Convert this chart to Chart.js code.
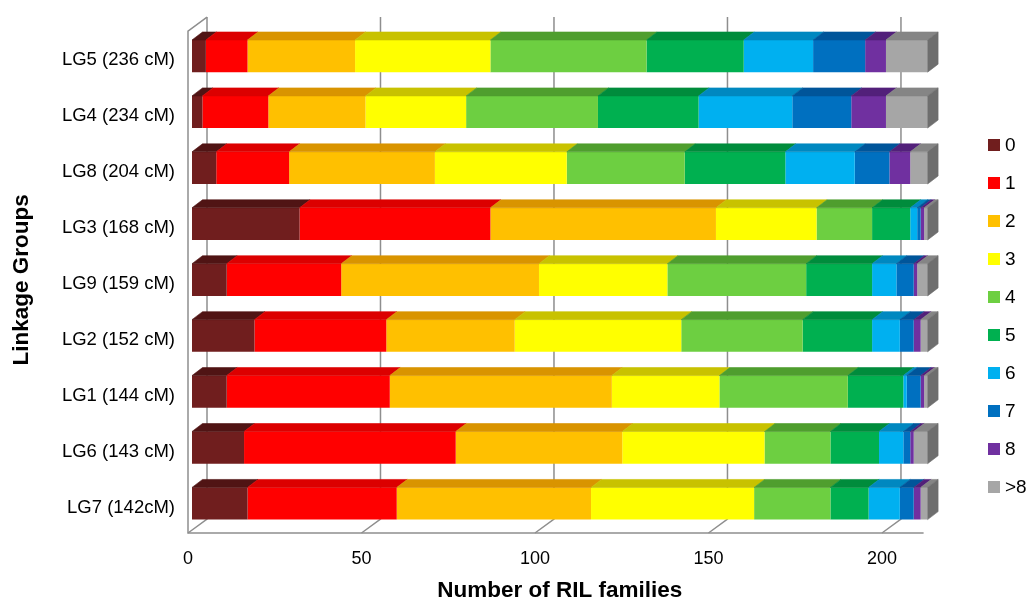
<!DOCTYPE html>
<html>
<head>
<meta charset="utf-8">
<script src="https://cdn.jsdelivr.net/npm/chart.js@4"></script>
<style>
  html, body { margin: 0; padding: 0; background: #fff; }
  #wrap { width: 1032px; height: 602px; }
</style>
</head>
<body>
<div id="wrap"><canvas id="rilChart" width="1032" height="602"></canvas></div>
<script>
const groups = ['LG5 (236 cM)', 'LG4 (234 cM)', 'LG8 (204 cM)', 'LG3 (168 cM)', 'LG9 (159 cM)',
                'LG2 (152 cM)', 'LG1 (144 cM)', 'LG6 (143 cM)', 'LG7 (142cM)'];
const classes = ['0', '1', '2', '3', '4', '5', '6', '7', '8', '>8'];

// number of RIL families per class, one value per linkage group (same order as groups)
const count0 = [4, 3, 7, 31, 10, 18, 10, 15, 16];
const count1 = [12, 19, 21, 55, 33, 38, 47, 61, 43];
const count2 = [31, 28, 42, 65, 57, 37, 64, 48, 56];
const count3 = [39, 29, 38, 29, 37, 48, 31, 41, 47];
const count4 = [45, 38, 34, 16, 40, 35, 37, 19, 22];
const count5 = [28, 29, 29, 11, 19, 20, 16, 14, 11];
const count6 = [20, 27, 20, 2, 7, 8, 1, 7, 9];
const count7 = [15, 17, 10, 1, 5, 4, 4, 2, 4];
const count8 = [6, 10, 6, 1, 1, 2, 1, 1, 2];
const countOver8 = [12, 12, 5, 1, 3, 2, 1, 4, 2];

const xTicks = [0, 50, 100, 150, 200];
const xMax = 212;

const frontColors = ['#701e1e', '#ff0000', '#ffc000', '#ffff00', '#6dcf41', '#00b050', '#00b0f0', '#0070c0', '#7030a0', '#a6a6a6'];
const topColors = ['#501414', '#dc0000', '#d99400', '#c8c200', '#4f9e2e', '#008c3c', '#0088c0', '#00559a', '#52207a', '#858585'];
const sideColors = ['#3e0f0f', '#b00000', '#b37a00', '#a39e00', '#3f7f24', '#006e30', '#006c98', '#00437a', '#401860', '#6e6e6e'];

const FONT = "'Liberation Sans', Arial, sans-serif";
const depthX = 10.5, depthY = 8;

const allCounts = [count0, count1, count2, count3, count4, count5, count6, count7, count8, countOver8];

// top and right faces of the 3D bars
const bar3d = {
    id: 'bar3d',
    afterDatasetsDraw(chart) {
        const ctx = chart.ctx;
        const metas = chart.getSortedVisibleDatasetMetas();
        ctx.save();
        ctx.lineWidth = 0.6;
        for (let r = 0; r < chart.data.labels.length; r++) {
            let last = null;
            metas.forEach(meta => {
                const el = meta.data[r];
                const x1 = Math.min(el.base, el.x), x2 = Math.max(el.base, el.x);
                if (x2 - x1 < 0.01) return;
                const top = el.y - el.height / 2;
                ctx.fillStyle = ctx.strokeStyle = topColors[meta.index];
                ctx.beginPath();
                ctx.moveTo(x1, top);
                ctx.lineTo(x2, top);
                ctx.lineTo(x2 + depthX, top - depthY);
                ctx.lineTo(x1 + depthX, top - depthY);
                ctx.closePath();
                ctx.fill();
                ctx.stroke();
                last = { x2, top, bottom: el.y + el.height / 2, i: meta.index };
            });
            if (last) {
                ctx.fillStyle = ctx.strokeStyle = sideColors[last.i];
                ctx.beginPath();
                ctx.moveTo(last.x2, last.top);
                ctx.lineTo(last.x2 + depthX, last.top - depthY);
                ctx.lineTo(last.x2 + depthX, last.bottom - depthY);
                ctx.lineTo(last.x2, last.bottom);
                ctx.closePath();
                ctx.fill();
                ctx.stroke();
            }
        }
        ctx.restore();
    }
};

// back wall gridlines, floor and left wall
const wall = {
    id: 'wall',
    beforeDatasetsDraw(chart) {
        const { ctx, chartArea: a, scales: { x } } = chart;
        const floorY = a.bottom + 1.5, backY = floorY - 14;
        const topBack = a.top - 11, topFront = topBack + 14;
        const fx = v => x.getPixelForValue(v) - 4;
        ctx.save();
        ctx.strokeStyle = '#8e8e8e';
        ctx.lineWidth = 1.5;
        xTicks.forEach(v => {
            ctx.beginPath();
            ctx.moveTo(fx(v) + 19, topBack);
            ctx.lineTo(fx(v) + 19, backY);
            ctx.lineTo(fx(v), floorY);
            ctx.stroke();
        });
        ctx.beginPath();
        ctx.moveTo(fx(xMax), floorY);
        ctx.lineTo(fx(0), floorY);
        ctx.lineTo(fx(0), topFront);
        ctx.lineTo(fx(0) + 19, topBack);
        ctx.stroke();
        ctx.restore();
    }
};

// legend on the right
const sideLegend = {
    id: 'sideLegend',
    afterDraw(chart) {
        const ctx = chart.ctx;
        ctx.save();
        ctx.font = '19px ' + FONT;
        ctx.textBaseline = 'middle';
        ctx.textAlign = 'left';
        chart.data.datasets.forEach((ds, i) => {
            const y = 145 + i * 38;
            ctx.fillStyle = ds.backgroundColor;
            ctx.fillRect(988, y - 6, 12, 12);
            ctx.fillStyle = '#000';
            ctx.fillText(ds.label, 1005, y + 1);
        });
        ctx.restore();
    }
};

const ctx = document.getElementById('rilChart').getContext('2d');

new Chart(ctx, {
    type: 'bar',
    data: {
        labels: groups,
        datasets: classes.map((c, i) => ({
            label: c,
            data: allCounts[i],
            backgroundColor: frontColors[i],
            borderWidth: 0,
            barPercentage: 0.575,
            categoryPercentage: 1
        }))
    },
    options: {
        indexAxis: 'y',
        responsive: false,
        animation: false,
        devicePixelRatio: 1,
        layout: { padding: { top: 23, right: 104.4, bottom: 0, left: 0 } },
        plugins: {
            legend: { display: false },
            tooltip: { enabled: false }
        },
        scales: {
            x: {
                stacked: true,
                min: 0,
                max: xMax,
                grid: { display: false, drawTicks: false },
                border: { display: false },
                afterBuildTicks: scale => {
                    scale.ticks = xTicks.map(v => ({ value: v }));
                },
                afterFit: scale => { scale.height = 70.5; },
                ticks: {
                    color: '#000',
                    font: { family: FONT, size: 18 },
                    padding: 17,
                    labelOffset: -4,
                    maxRotation: 0
                },
                title: {
                    display: true,
                    text: 'Number of RIL families',
                    color: '#000',
                    font: { family: FONT, size: 22.5, weight: 'bold', lineHeight: 1 },
                    padding: { top: 0, bottom: 0 }
                }
            },
            y: {
                stacked: true,
                grid: { display: false, drawTicks: false },
                border: { display: false },
                afterFit: scale => { scale.width = 192; },
                ticks: {
                    color: '#000',
                    font: { family: FONT, size: 18.5 },
                    padding: 17,
                    labelOffset: 4
                },
                title: {
                    display: true,
                    text: 'Linkage Groups',
                    color: '#000',
                    font: { family: FONT, size: 22.5, weight: 'bold', lineHeight: 1 },
                    padding: { top: 11, bottom: 0 }
                }
            }
        }
    },
    plugins: [wall, bar3d, sideLegend]
});
</script>
</body>
</html>
